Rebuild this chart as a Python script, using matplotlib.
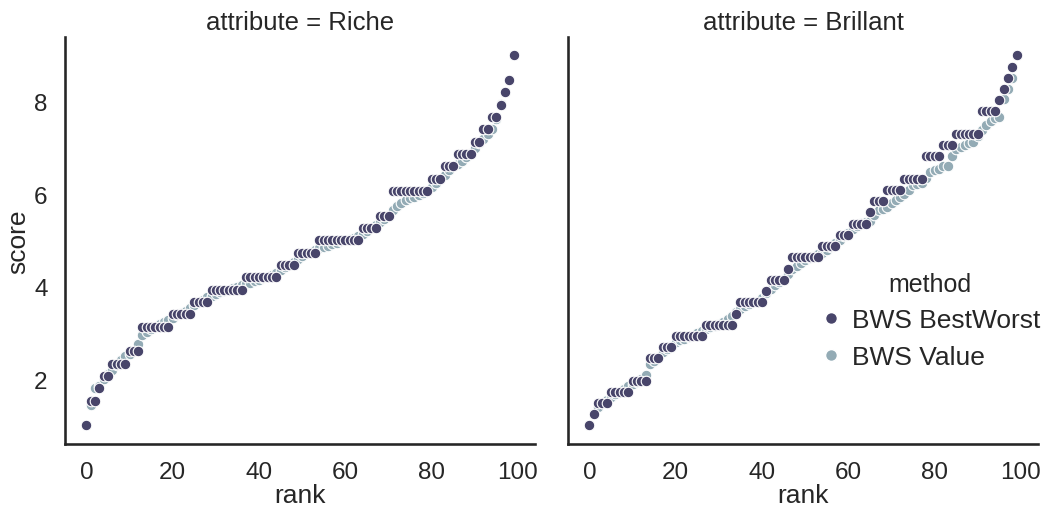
import numpy as np
import pandas as pd
import matplotlib
matplotlib.use('Agg')
import matplotlib.pyplot as plt
import seaborn as sns

# BWS scores per attribute, sorted by rank (0..99)
rank = list(range(100))

# attribute = Riche
riche_bestworst = [
    1.00, 1.53, 1.53, 1.80, 2.07, 2.07, 2.33, 2.33, 2.33, 2.33,
    2.60, 2.60, 2.60, 3.13, 3.13, 3.13, 3.13, 3.13, 3.13, 3.13,
    3.40, 3.40, 3.40, 3.40, 3.40, 3.67, 3.67, 3.67, 3.67, 3.93,
    3.93, 3.93, 3.93, 3.93, 3.93, 3.93, 3.93, 4.20, 4.20, 4.20,
    4.20, 4.20, 4.20, 4.20, 4.20, 4.47, 4.47, 4.47, 4.47, 4.73,
    4.73, 4.73, 4.73, 4.73, 5.00, 5.00, 5.00, 5.00, 5.00, 5.00,
    5.00, 5.00, 5.00, 5.00, 5.27, 5.27, 5.27, 5.27, 5.53, 5.53,
    5.53, 6.07, 6.07, 6.07, 6.07, 6.07, 6.07, 6.07, 6.07, 6.07,
    6.33, 6.33, 6.33, 6.60, 6.60, 6.60, 6.87, 6.87, 6.87, 6.87,
    7.13, 7.13, 7.40, 7.40, 7.67, 7.67, 7.93, 8.20, 8.47, 9.00,
]
riche_value = [
    1.00, 1.45, 1.80, 1.86, 2.00, 2.12, 2.20, 2.30, 2.42, 2.50,
    2.55, 2.62, 2.77, 2.96, 3.02, 3.08, 3.14, 3.20, 3.24, 3.28,
    3.33, 3.38, 3.43, 3.48, 3.54, 3.60, 3.66, 3.72, 3.77, 3.81,
    3.85, 3.88, 3.91, 3.94, 3.97, 4.00, 4.03, 4.06, 4.09, 4.12,
    4.15, 4.18, 4.21, 4.25, 4.30, 4.36, 4.42, 4.48, 4.54, 4.60,
    4.66, 4.72, 4.76, 4.80, 4.83, 4.86, 4.89, 4.92, 4.95, 4.98,
    5.00, 5.03, 5.06, 5.10, 5.15, 5.20, 5.26, 5.33, 5.40, 5.47,
    5.55, 5.65, 5.75, 5.82, 5.88, 5.92, 5.95, 5.98, 6.02, 6.08,
    6.15, 6.24, 6.33, 6.42, 6.52, 6.60, 6.66, 6.72, 6.80, 6.90,
    7.00, 7.10, 7.20, 7.30, 7.42, 7.62, 7.95, 8.20, 8.48, 9.00,
]

# attribute = Brillant
brillant_bestworst = [
    1.00, 1.24, 1.48, 1.48, 1.48, 1.73, 1.73, 1.73, 1.73, 1.73,
    1.97, 1.97, 1.97, 1.97, 2.45, 2.45, 2.45, 2.70, 2.70, 2.70,
    2.94, 2.94, 2.94, 2.94, 2.94, 2.94, 2.94, 3.18, 3.18, 3.18,
    3.18, 3.18, 3.18, 3.18, 3.42, 3.67, 3.67, 3.67, 3.67, 3.67,
    3.67, 3.91, 4.15, 4.15, 4.15, 4.15, 4.39, 4.64, 4.64, 4.64,
    4.64, 4.64, 4.64, 4.64, 4.88, 4.88, 4.88, 4.88, 5.12, 5.12,
    5.12, 5.36, 5.36, 5.36, 5.36, 5.61, 5.85, 5.85, 5.85, 6.09,
    6.09, 6.09, 6.09, 6.33, 6.33, 6.33, 6.33, 6.33, 6.82, 6.82,
    6.82, 6.82, 7.06, 7.06, 7.06, 7.30, 7.30, 7.30, 7.30, 7.30,
    7.30, 7.79, 7.79, 7.79, 7.79, 8.03, 8.27, 8.52, 8.76, 9.00,
]
brillant_value = [
    1.00, 1.25, 1.40, 1.48, 1.55, 1.62, 1.68, 1.73, 1.78, 1.85,
    1.90, 1.95, 2.00, 2.10, 2.33, 2.40, 2.48, 2.58, 2.65, 2.72,
    2.80, 2.85, 2.88, 2.92, 2.95, 3.00, 3.04, 3.08, 3.12, 3.16,
    3.20, 3.24, 3.30, 3.36, 3.45, 3.52, 3.58, 3.62, 3.66, 3.70,
    3.76, 3.86, 3.96, 4.04, 4.10, 4.16, 4.28, 4.38, 4.45, 4.52,
    4.58, 4.62, 4.66, 4.70, 4.74, 4.79, 4.86, 4.94, 5.02, 5.10,
    5.16, 5.25, 5.31, 5.37, 5.40, 5.43, 5.55, 5.65, 5.68, 5.72,
    5.80, 5.88, 5.94, 6.00, 6.10, 6.19, 6.22, 6.24, 6.35, 6.48,
    6.52, 6.55, 6.60, 6.62, 6.82, 6.98, 7.02, 7.07, 7.10, 7.12,
    7.25, 7.38, 7.50, 7.58, 7.65, 7.68, 8.05, 8.27, 8.52, 9.00,
]

methods = ['BWS BestWorst', 'BWS Value']
attributes = ['Riche', 'Brillant']
colors = {'BWS BestWorst': '#48456a', 'BWS Value': '#93abb5'}

sns.set_theme(style='white', context='talk')
plt.rcParams['font.family'] = ['Liberation Sans', 'DejaVu Sans']
plt.rcParams.update({
    'axes.titlesize': 18.5,
    'axes.labelsize': 19,
    'xtick.labelsize': 17.5,
    'ytick.labelsize': 17.5,
    'legend.fontsize': 19,
    'legend.title_fontsize': 18,
})

data = {
    'Riche': {'BWS BestWorst': riche_bestworst, 'BWS Value': riche_value},
    'Brillant': {'BWS BestWorst': brillant_bestworst, 'BWS Value': brillant_value},
}

fig = plt.figure(figsize=(10.52, 5.10), dpi=100)
ax1 = fig.add_axes([0.0618, 0.1275, 0.4468, 0.798])
ax2 = fig.add_axes([0.540, 0.1275, 0.4467, 0.798], sharey=ax1)

for ax, att in zip([ax1, ax2], attributes):
    # value first so the stepped BestWorst points sit on top
    for m in ['BWS Value', 'BWS BestWorst']:
        ax.scatter(rank, data[att][m], color=colors[m], s=58,
                   edgecolors='white', linewidths=0.8, zorder=3)
    ax.set_title('attribute = ' + att)
    ax.set_xlabel('rank', labelpad=0)
    ax.set_xticks([0, 20, 40, 60, 80, 100])
    ax.margins(0.05)
    sns.despine(ax=ax)

ax1.set_ylabel('score', labelpad=3)
ax1.set_yticks([2, 4, 6, 8])
ax2.tick_params(labelleft=False)

handles = [plt.Line2D([], [], marker='o', linestyle='', markersize=8.5,
                      markerfacecolor=colors[m], markeredgecolor='white')
           for m in methods]
fig.legend(handles, methods, title='method', frameon=False,
           loc='upper left', bbox_to_anchor=(0.757, 0.512),
           handlelength=0.8, handletextpad=0.4, labelspacing=0.48)

fig.savefig('out.png', dpi=100)
